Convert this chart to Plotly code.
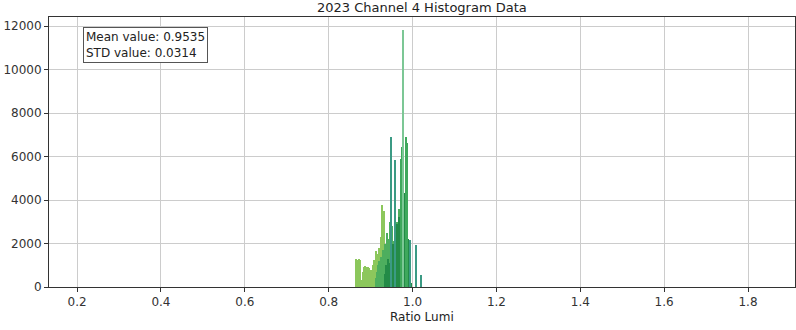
import plotly.graph_objects as go

# ---- data (bin centres and counts) ----
light_x = [0.8640, 0.8665, 0.8690, 0.8715, 0.8740, 0.8765, 0.8790, 0.8815, 0.8840, 0.8865,
           0.8890, 0.8915, 0.8940, 0.8965, 0.8990, 0.9015, 0.9040, 0.9065, 0.9090, 0.9115,
           0.9140, 0.9165, 0.9190, 0.9215, 0.9240, 0.9265, 0.9290, 0.9315, 0.9340, 0.9365, 0.9390]
light_y = [1290, 1250, 450, 1290, 1250, 300, 250, 700, 900, 950,
           900, 820, 930, 880, 760, 800, 720, 1000, 1250, 1100,
           1650, 1500, 1800, 1300, 2300, 3770, 2600, 3500, 2000, 1500, 900]

mid_x = [0.9120, 0.9145, 0.9170, 0.9195, 0.9220, 0.9245, 0.9270, 0.9295, 0.9320, 0.9345,
         0.9370, 0.9395, 0.9420, 0.9445, 0.9470, 0.9495, 0.9520, 0.9545, 0.9570, 0.9595,
         0.9620, 0.9645, 0.9670, 0.9695, 0.9720, 0.9745]
mid_y = [400, 700, 1000, 1200, 900, 1400, 1100, 1700, 1300, 2000,
         1600, 2500, 1800, 2200, 3000, 2400, 2800, 2100, 3300, 2600,
         3000, 2200, 3600, 2800, 2000, 1500]

dark_x = [0.9350, 0.9375, 0.9400, 0.9425, 0.9450, 0.9475, 0.9500, 0.9525, 0.9550, 0.9575,
          0.9600, 0.9625, 0.9650, 0.9675, 0.9700, 0.9725, 0.9750, 0.9775, 0.9800, 0.9825,
          0.9850, 0.9875, 0.9900, 0.9925, 0.9950, 0.9975]
dark_y = [600, 1000, 800, 1300, 1100, 1600, 1300, 2000, 1700, 2400,
          2100, 2900, 2500, 3200, 2800, 3600, 3100, 4000, 3700, 4300,
          3900, 3400, 2200, 1200, 500, 200]

green_x = [0.9730, 0.9755, 0.9833, 0.9857]
green_y = [5900, 6450, 6900, 6600]

teal_x = [0.9480, 0.9590, 0.9950, 1.0090, 1.0190]
teal_y = [6900, 5840, 2150, 1930, 550]

mint_x = [0.9780]
mint_y = [11820]

x_ticks = [0.2, 0.4, 0.6, 0.8, 1.0, 1.2, 1.4, 1.6, 1.8]
x_tick_labels = ["0.2", "0.4", "0.6", "0.8", "1.0", "1.2", "1.4", "1.6", "1.8"]
y_ticks = [0, 2000, 4000, 6000, 8000, 10000, 12000]
y_tick_labels = ["0", "2000", "4000", "6000", "8000", "10000", "12000"]

mean_value = 0.9535
std_value = 0.0314

BIN_W = 0.0025

fig = go.Figure()
series = [
    (light_x, light_y, "#8cc75c"),
    (mid_x, mid_y, "#4dae5e"),
    (dark_x, dark_y, "#238b47"),
    (green_x, green_y, "#3ea85c"),
    (teal_x, teal_y, "#3b9a84"),
    (mint_x, mint_y, "#7cc795"),
]
for xs, ys, col in series:
    fig.add_trace(go.Bar(x=xs, y=ys, width=[BIN_W] * len(xs),
                         marker=dict(color=col, line=dict(width=0)),
                         showlegend=False))

axis_common = dict(showline=True, mirror=True, linecolor="#333333", linewidth=1,
                   showgrid=True, gridcolor="#cccccc", gridwidth=1,
                   ticks="outside", ticklen=4, tickcolor="#333333",
                   tickfont=dict(family="DejaVu Sans", size=12, color="#333333"),
                   zeroline=False)

fig.update_layout(
    width=796, height=330,
    margin=dict(l=49, r=1, t=17, b=43),
    paper_bgcolor="white", plot_bgcolor="white",
    barmode="overlay", bargap=0,
    font=dict(family="DejaVu Sans", size=12, color="#222222"),
    xaxis=dict(range=[0.133, 1.912], tickvals=x_ticks, ticktext=x_tick_labels, **axis_common),
    yaxis=dict(range=[0, 12414], tickvals=y_ticks, ticktext=y_tick_labels, **axis_common),
    annotations=[
        dict(text="2023 Channel 4 Histogram Data", xref="paper", yref="paper",
             x=0.5, y=1 + (17 - 7) / 270, xanchor="center", yanchor="middle",
             showarrow=False, font=dict(family="DejaVu Sans", size=13, color="#222222")),
        dict(text="Ratio Lumi", xref="paper", yref="paper",
             x=0.5, y=-(317 - 287) / 270, xanchor="center", yanchor="middle",
             showarrow=False, font=dict(family="DejaVu Sans", size=12, color="#222222")),
        dict(text=f"Mean value: {mean_value}<br>STD value: {std_value}",
             xref="paper", yref="paper", x=(83 - 49) / 746, y=1 - (27 - 17) / 270,
             xanchor="left", yanchor="top", align="left", showarrow=False,
             bgcolor="white", bordercolor="#555555", borderwidth=1, borderpad=2,
             font=dict(family="DejaVu Sans", size=12, color="#222222")),
    ],
)

fig.write_html("out.html", config={"displayModeBar": False},
               post_script="document.body.style.margin='0';document.body.style.overflow='hidden';")
